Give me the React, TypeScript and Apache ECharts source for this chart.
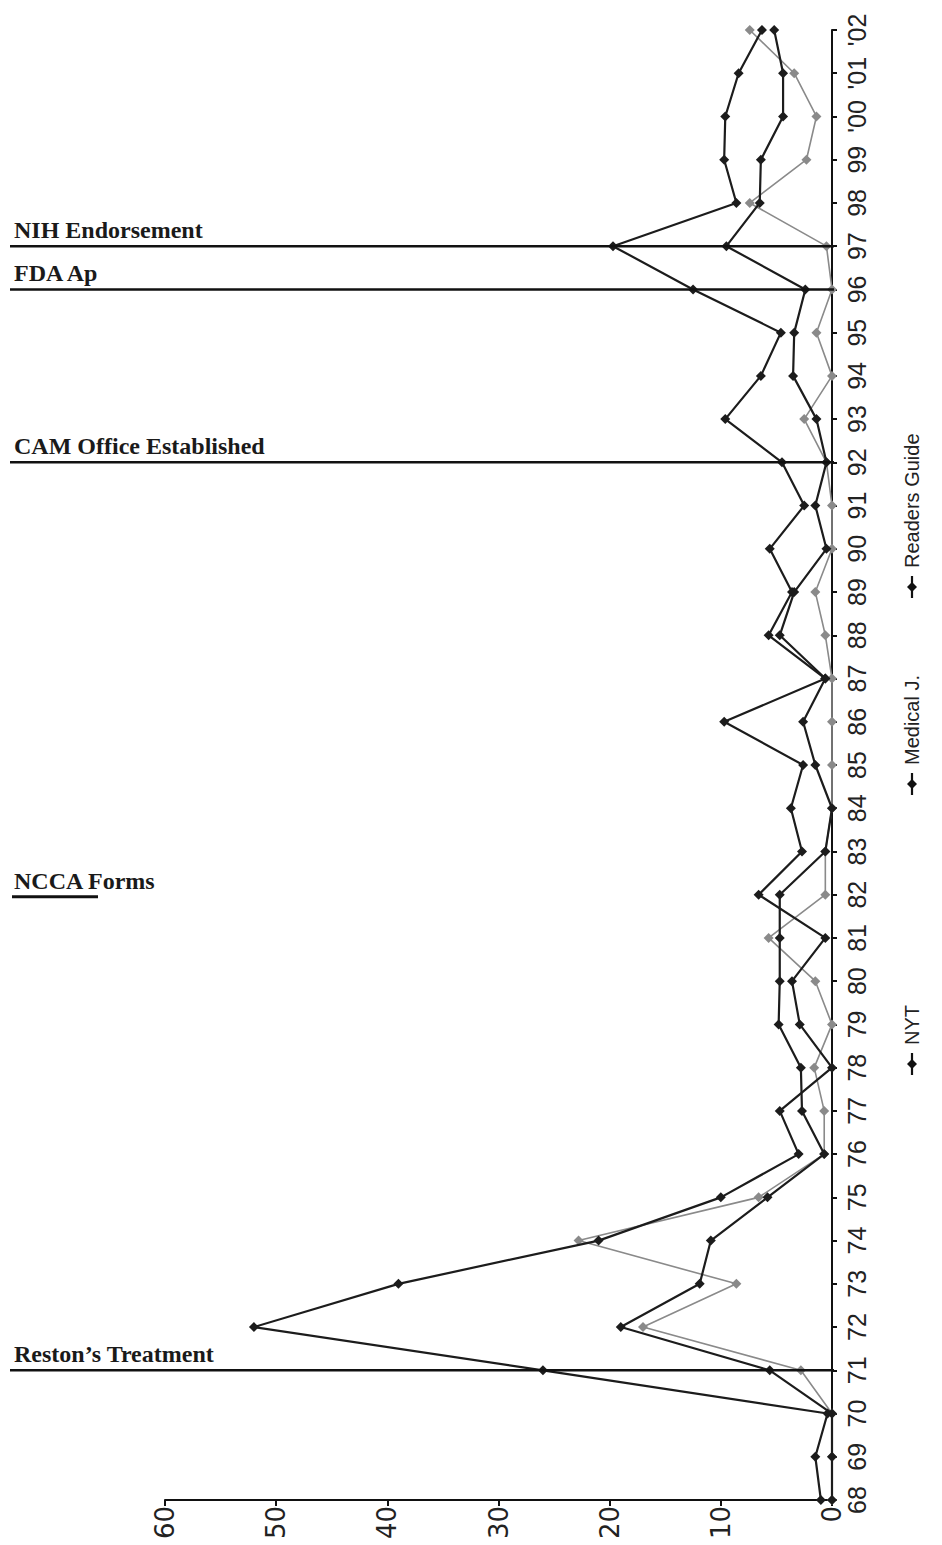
import React, { useEffect, useRef } from "react";
import * as echarts from "echarts";

// Category axis: years 1968–2002
const years = [
  "68", "69", "70", "71", "72", "73", "74", "75", "76", "77", "78", "79",
  "80", "81", "82", "83", "84", "85", "86", "87", "88", "89", "90", "91",
  "92", "93", "94", "95", "96", "97", "98", "99", "'00", "'01", "'02",
];

// Series values (number of articles)
const nyt = [
  1, 1.5, 0.4, 26, 52, 39, 21, 10, 3, 4.7, 0, 2.9,
  3.6, 0.6, 6.6, 2.7, 3.7, 2.6, 9.7, 0.6, 5.7, 3.6, 5.6, 2.5,
  4.5, 9.6, 6.4, 4.6, 12.5, 19.7, 8.6, 9.7, 9.6, 8.4, 6.3,
];
const medicalJ = [
  0, 0, 0, 5.6, 19, 11.9, 10.9, 5.8, 0.7, 2.7, 2.8, 4.8,
  4.7, 4.7, 4.7, 0.6, 0, 1.5, 2.6, 0.6, 4.7, 3.4, 0.5, 1.5,
  0.5, 1.4, 3.5, 3.4, 2.4, 9.5, 6.5, 6.4, 4.4, 4.4, 5.2,
];
const readersGuide = [
  0, 0, 0, 2.8, 17, 8.6, 22.8, 6.6, 0.7, 0.7, 1.6, 0,
  1.5, 5.7, 0.6, 0.6, 0, 0, 0, 0, 0.6, 1.5, 0, 0,
  0.5, 2.5, 0, 1.4, 0, 0.5, 7.4, 2.3, 1.4, 3.4, 7.4,
];

const seriesNames = ["NYT", "Medical J.", "Readers Guide"];

// Value axis
const valueMin = 0;
const valueMax = 60;
const valueStep = 10;

// Events drawn as horizontal reference lines
const eventYears = ["71", "92", "96", "97"];
const eventLabels = ["Reston\u2019s Treatment", "CAM Office Established", "FDA Ap", "NIH Endorsement"];
const noteYear = "82";
const noteLabel = "NCCA Forms";

export default function App() {
  const ref = useRef<HTMLDivElement | null>(null);

  useEffect(() => {
    if (!ref.current) return;
    const chart = echarts.init(ref.current, undefined, { renderer: "svg" });

    const black = "#1c1c1c";
    const gray = "#8a8a8a";
    const seriesData = [nyt, medicalJ, readersGuide];
    const seriesColors = [black, black, gray];

    const series = [2, 1, 0].map((i) => ({
      name: seriesNames[i],
      type: "line",
      data: seriesData[i],
      symbol: "diamond",
      symbolSize: 10,
      showSymbol: true,
      lineStyle: { color: seriesColors[i], width: i === 2 ? 1.6 : 2.2 },
      itemStyle: { color: seriesColors[i] },
      z: i === 2 ? 2 : 3,
    }));

    chart.setOption({
      animation: false,
      backgroundColor: "#ffffff",
      grid: { left: 165, right: 110, top: 30, bottom: 45, containLabel: false, outerBoundsMode: "none" },
      xAxis: {
        type: "value",
        inverse: true,
        min: valueMin,
        max: valueMax,
        interval: valueStep,
        position: "bottom",
        axisLine: { show: true, onZero: false, lineStyle: { color: "#111", width: 2 } },
        axisTick: { show: true, length: 6, lineStyle: { color: "#111", width: 2 } },
        axisLabel: { rotate: 90, margin: 6, fontSize: 26, fontFamily: "DejaVu Sans", color: "#222" },
        splitLine: { show: false },
      },
      yAxis: {
        type: "category",
        data: years,
        boundaryGap: false,
        position: "right",
        axisLine: { show: true, onZero: false, lineStyle: { color: "#111", width: 2 } },
        axisTick: { show: true, length: 5, interval: 0, lineStyle: { color: "#111", width: 2 } },
        axisLabel: { rotate: 90, margin: 12, interval: 0, fontSize: 25, fontFamily: "Liberation Sans", color: "#222" },
        splitLine: { show: false },
      },
      series,
    });

    const px = (v: number, yr: string) =>
      chart.convertToPixel({ gridIndex: 0 }, [v, years.indexOf(yr)]) as number[];

    const graphics: any[] = [];
    const serifFont = "bold 24px 'Liberation Serif', 'Times New Roman', serif";
    eventYears.forEach((yr, i) => {
      const [x0, y] = px(valueMin, yr);
      graphics.push({
        type: "line",
        shape: { x1: 10, y1: y, x2: x0 + 2, y2: y },
        style: { stroke: "#111", lineWidth: 2.5 },
        z: 10,
      });
      graphics.push({
        type: "text",
        x: 14,
        y: y - 4,
        style: { text: eventLabels[i], font: serifFont, fill: "#1a1a1a", textAlign: "left", textVerticalAlign: "bottom" },
        z: 10,
      });
    });
    {
      const [, y] = px(valueMin, noteYear);
      graphics.push({
        type: "line",
        shape: { x1: 12, y1: y + 2, x2: 98, y2: y + 2 },
        style: { stroke: "#111", lineWidth: 3 },
        z: 10,
      });
      graphics.push({
        type: "text",
        x: 14,
        y: y - 2,
        style: { text: noteLabel, font: serifFont, fill: "#1a1a1a", textAlign: "left", textVerticalAlign: "bottom" },
        z: 10,
      });
    }

    // Rotated legend (reads bottom to top)
    const legendAnchors = [1075, 795, 598];
    seriesNames.forEach((name, i) => {
      graphics.push({
        type: "group",
        x: 912,
        y: legendAnchors[i],
        rotation: Math.PI / 2,
        children: [
          { type: "line", shape: { x1: 0, y1: 0, x2: 22, y2: 0 }, style: { stroke: "#111", lineWidth: 2.2 } },
          { type: "polygon", shape: { points: [[11, -5], [16, 0], [11, 5], [6, 0]] }, style: { fill: "#111" } },
          {
            type: "text",
            x: 30,
            y: 0,
            style: { text: name, font: "20px 'Liberation Sans', Arial, sans-serif", fill: "#222", textAlign: "left", textVerticalAlign: "middle" },
          },
        ],
      });
    });

    chart.setOption({ graphic: graphics });

    return () => chart.dispose();
  }, []);

  return (
    <div
      ref={ref}
      style={{ position: "absolute", left: 0, top: 0, width: 942, height: 1545, background: "#fff" }}
    />
  );
}
